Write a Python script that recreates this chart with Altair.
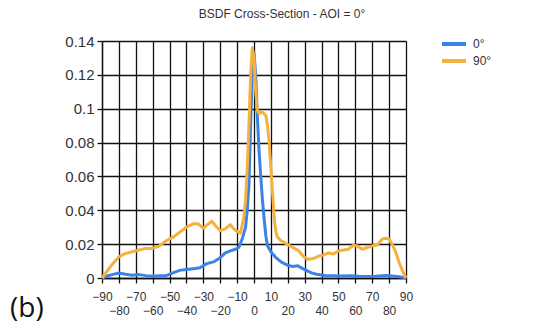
import altair as alt
import pandas as pd

# 0° series (blue)
x0 = [-90, -87, -84, -80, -76, -72, -68, -64, -60, -56, -52, -48, -44, -40, -36, -32, -28, -24, -20, -17,
      -14, -11, -9, -7, -5, -4, -3, -2, -1, 0, 1, 2, 3, 4, 5, 6, 7, 8, 10, 13, 16, 20, 23, 26, 28, 31,
      34, 37, 42, 47, 52, 57, 62, 67, 72, 78, 82, 86, 90]
y0 = [0, 0.0012, 0.002, 0.003, 0.0022, 0.0016, 0.002, 0.0014, 0.001, 0.0014, 0.0014, 0.003, 0.0045, 0.005,
      0.0055, 0.006, 0.0085, 0.0095, 0.012, 0.0148, 0.016, 0.017, 0.018, 0.023, 0.030, 0.04, 0.055, 0.09,
      0.123, 0.133, 0.12, 0.095, 0.075, 0.06, 0.046, 0.035, 0.025, 0.019, 0.0155, 0.012, 0.0095, 0.0075,
      0.0068, 0.0072, 0.006, 0.0045, 0.003, 0.0022, 0.0015, 0.0014, 0.0012, 0.0014, 0.001, 0.0009, 0.001,
      0.0015, 0.0012, 0.0008, 0]

# 90° series (orange)
x90 = [-90, -87, -84, -80, -76, -72, -68, -64, -60, -56, -52, -48, -44, -40, -36, -33, -30, -27, -25, -22,
       -20, -17, -14, -12, -10, -8, -6, -5, -4, -3, -2, -1, 0, 1, 2, 3, 4, 5, 6, 7, 8, 9, 10, 11, 12, 13,
       14, 16, 18, 20, 23, 26, 29, 32, 35, 38, 41, 44, 47, 50, 53, 56, 59, 61, 64, 67, 70, 73, 76, 78, 80,
       82, 84, 86, 88, 90]
y90 = [0, 0.004, 0.008, 0.0125, 0.0145, 0.0155, 0.0165, 0.0175, 0.0175, 0.019, 0.022, 0.024, 0.027, 0.030,
       0.032, 0.032, 0.0295, 0.032, 0.0335, 0.030, 0.028, 0.029, 0.0315, 0.029, 0.0275, 0.0265, 0.036,
       0.046, 0.065, 0.09, 0.12, 0.136, 0.13, 0.11, 0.099, 0.097, 0.098, 0.098, 0.097, 0.096, 0.09, 0.08,
       0.065, 0.05, 0.035, 0.027, 0.024, 0.022, 0.021, 0.0197, 0.018, 0.0165, 0.013, 0.011, 0.0115, 0.0128,
       0.0135, 0.0148, 0.0142, 0.016, 0.0165, 0.017, 0.0195, 0.019, 0.017, 0.018, 0.019, 0.0195, 0.023,
       0.0235, 0.023, 0.0195, 0.015, 0.009, 0.004, 0]

series_names = ["0°", "90°"]
series_colors = ["#3b84e6", "#f5b03e"]
x_ticks = list(range(-90, 91, 10))
y_ticks = [0, 0.02, 0.04, 0.06, 0.08, 0.1, 0.12, 0.14]
title_text = "BSDF Cross-Section - AOI = 0°"
panel_label = "(b)"

df = pd.concat([
    pd.DataFrame({"angle": x0, "bsdf": y0, "series": series_names[0], "order": 0}),
    pd.DataFrame({"angle": x90, "bsdf": y90, "series": series_names[1], "order": 1}),
], ignore_index=True)

lines = alt.Chart(df).mark_line(strokeWidth=3, strokeJoin="round").encode(
    x=alt.X("angle:Q", scale=alt.Scale(domain=[-90, 90], nice=False),
            axis=alt.Axis(values=x_ticks, title=None, grid=True, gridColor="#111", gridOpacity=1,
                          gridWidth=1.3, domainColor="#111", domainWidth=1.3, tickColor="#111",
                          tickSize=5, tickWidth=1.3, labelFontSize=12, labelColor="#333",
                          labelFont="Liberation Sans", labelPadding=8, labelLineHeight=14,
                          labelFlush=False, labelOverlap=False,
                          labelExpr="(datum.value % 20 == 0) ? [' ', datum.label] : datum.label")),
    y=alt.Y("bsdf:Q", scale=alt.Scale(domain=[0, 0.14], nice=False),
            axis=alt.Axis(values=y_ticks, title=None, grid=True, gridColor="#111", gridOpacity=1,
                          gridWidth=1.3, domainColor="#111", domainWidth=1.3, tickColor="#111",
                          tickSize=5, tickWidth=1.3, labelFontSize=15, labelColor="#333",
                          labelFont="Liberation Sans", labelPadding=3, format=".2~f",
                          labelFlush=False)),
    color=alt.Color("series:N", scale=alt.Scale(domain=series_names, range=series_colors),
                    legend=alt.Legend(title=None, orient="none", legendX=344, legendY=-5,
                                      symbolType="M-2,0H2", symbolStrokeWidth=4, symbolSize=144,
                                      labelFontSize=12, labelColor="#333", labelFont="Liberation Sans",
                                      rowPadding=1, labelOffset=11)),
    order=alt.Order("order:Q"),
    detail="series:N",
)

title = alt.Chart(pd.DataFrame({"t": [title_text]})).mark_text(
    align="center", baseline="middle", fontSize=12, font="Liberation Sans", color="#333"
).encode(text="t:N", x=alt.value(180), y=alt.value(-27))

label = alt.Chart(pd.DataFrame({"t": [panel_label]})).mark_text(
    align="left", baseline="alphabetic", fontSize=28, font="Open Sans", color="#111"
).encode(text="t:N", x=alt.value(-92), y=alt.value(276))

chart = alt.layer(lines, title, label).properties(
    width=304, height=237,
    autosize="none",
    padding={"left": 94, "top": 33, "right": 122, "bottom": 49},
).configure_view(stroke=None)

chart.save("out.html", embed_options={"renderer": "svg", "actions": False})
